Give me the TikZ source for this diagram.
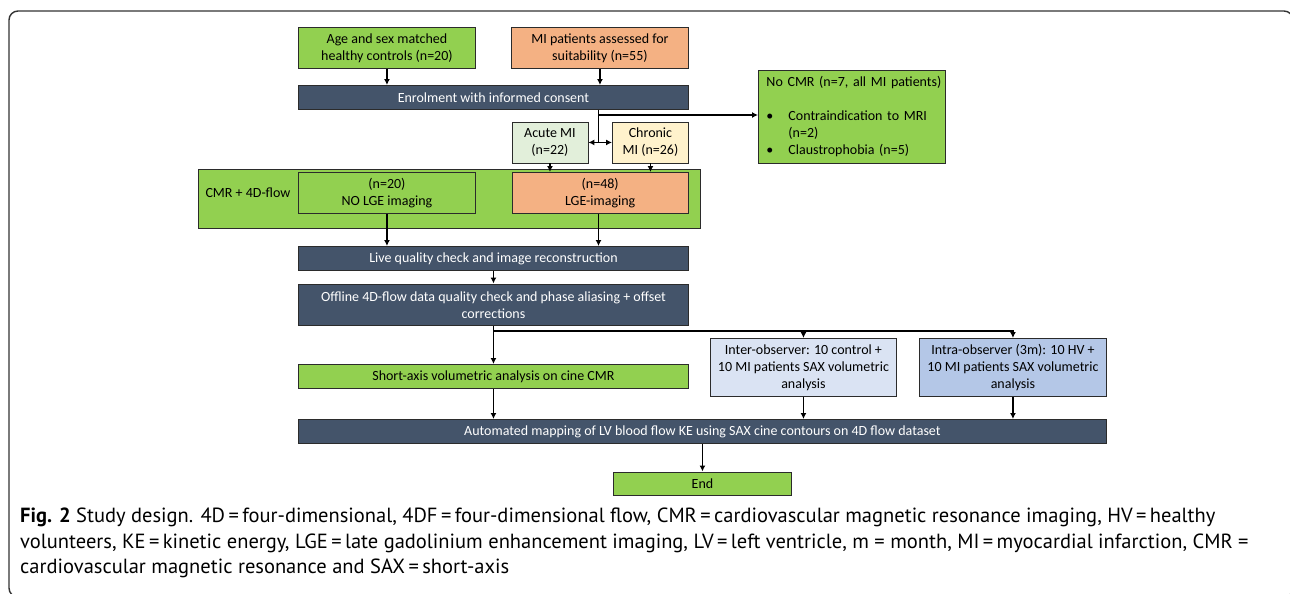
\documentclass[tikz,border=0pt]{standalone}
\usepackage{fontspec}
\setmainfont{Carlito}
\newfontfamily\capfont{PT Sans}
\usepackage{tikz}
\usetikzlibrary{positioning,arrows.meta}

\definecolor{mgreen}{HTML}{92D050}
\definecolor{morange}{HTML}{F4B183}
\definecolor{mnavy}{HTML}{44546A}
\definecolor{macute}{HTML}{E2EFDA}
\definecolor{mchronic}{HTML}{FFF2CC}
\definecolor{minter}{HTML}{DAE3F3}
\definecolor{mintra}{HTML}{B4C7E7}
\definecolor{boxline}{HTML}{2B2B2B}

\tikzset{
    box/.style={draw=boxline, line width=0.9pt, align=center, inner sep=0pt,
                anchor=north west, font=\fontsize{14}{17}\selectfont},
    greenbox/.style={box, fill=mgreen},
    orangebox/.style={box, fill=morange},
    darkbox/.style={box, fill=mnavy, text=white},
    link/.style={line width=1.7pt, black}
}

\begin{document}
\begin{tikzpicture}[x=1pt, y=-1pt, >={Latex[length=6pt,width=6pt]}]
                \useasboundingbox (0,0) rectangle (1290,594);
                \draw[line width=1.4pt, black!80, rounded corners=9pt] (9,11) rectangle (1293,597);

                % top row
                \node[greenbox, minimum width=177pt, minimum height=41pt]  (healthy)  at (298,27)  {Age and sex matched\\healthy controls (n=20)};
                \node[orangebox, minimum width=177pt, minimum height=41pt] (assessed) at (511,27)  {MI patients assessed for\\suitability (n=55)};
                \node[darkbox, minimum width=390pt, minimum height=24pt]   (enrol)    at (298,85)  {Enrolment with informed consent};

                \node[greenbox, minimum height=93pt, text width=171pt, inner xsep=8pt, align=left] (nocmr) at (758,70)
                    {\mbox{No CMR (n=7, all MI patients)}\\[17pt]
                     \makebox[22pt][l]{\textbullet}Contraindication to MRI\\
                     \hspace*{22pt}(n=2)\\
                     \makebox[22pt][l]{\textbullet}Claustrophobia (n=5)};

                \node[box, fill=macute, minimum width=76pt, minimum height=41pt]   (acute)   at (511.5,121.5) {Acute MI\\(n=22)};
                \node[box, fill=mchronic, minimum width=76pt, minimum height=41pt] (chronic) at (612,121.5)   {Chronic\\MI (n=26)};

                % scan group
                \node[greenbox, minimum width=502pt, minimum height=59pt] (scan) at (198,168.5) {};
                \node[font=\fontsize{14}{17}\selectfont] (scanlabel) at (248,193) {CMR + 4D-flow};
                \node[greenbox, minimum width=177pt, minimum height=41pt]    (nolge) at (298,172)   {(n=20)\\NO LGE imaging};
                \node[orangebox, minimum width=176.5pt, minimum height=41pt] (lge)   at (511.5,172) {(n=48)\\LGE-imaging};

                % processing
                \node[darkbox, minimum width=390pt, minimum height=24pt]   (live)      at (298,246)   {Live quality check and image reconstruction};
                \node[darkbox, minimum width=390pt, minimum height=41.5pt] (offline)   at (298,283.5) {Offline 4D-flow data quality check and phase aliasing + offset\\corrections};
                \node[greenbox, minimum width=390pt, minimum height=24pt]  (shortaxis) at (298,364)   {Short-axis volumetric analysis on cine CMR};
                \node[box, fill=minter, minimum width=186pt, minimum height=58pt] (inter) at (710,338) {Inter-observer: 10 control +\\10 MI patients SAX volumetric\\analysis};
                \node[box, fill=mintra, minimum width=187pt, minimum height=58pt] (intra) at (919,338) {Intra-observer (3m): 10 HV +\\10 MI patients SAX volumetric\\analysis};
                \node[darkbox, minimum width=808pt, minimum height=24pt]   (mapping)   at (298,419)   {Automated mapping of LV blood flow KE using SAX cine contours on 4D flow dataset};
                \node[greenbox, minimum width=178pt, minimum height=23.5pt] (theend)   at (613,471.5) {End};

                \coordinate (branch) at (598.5,115);
                \coordinate (split)  at (598.5,142);
                \coordinate (fork)   at (493,331);

                \draw[link, ->] (healthy.south)  -- (healthy.south |- enrol.north);
                \draw[link, ->] (assessed.south) -- (assessed.south |- enrol.north);
                \draw[link] (enrol.south -| branch) -- (split);
                \draw[link, ->] (branch) -- (branch -| nocmr.west);
                \draw[link, <->] (acute.east) -- (chronic.west);
                \draw[link, ->] (acute.south)   -- (acute.south |- lge.north);
                \draw[link, ->] (chronic.south) -- (chronic.south |- lge.north);
                \draw[link, ->] (nolge.south) -- (nolge.south |- live.north);
                \draw[link, ->] (lge.south -| branch) -- (live.north -| branch);
                \draw[link, ->] (live.south) -- (offline.north);
                \draw[link, ->] (offline.south) -- (shortaxis.north);
                \draw[link, ->] (fork) -- (fork -| intra.north) -- (intra.north);
                \draw[link, ->] (fork -| inter.north) -- (inter.north);
                \draw[link, ->] (shortaxis.south) -- (shortaxis.south |- mapping.north);
                \draw[link, ->] (inter.south) -- (inter.south |- mapping.north);
                \draw[link, ->] (intra.south) -- (intra.south |- mapping.north);
                \draw[link, ->] (theend.north |- mapping.south) -- (theend.north);

                % caption
                \node[anchor=north west, align=left, inner sep=0pt, font=\capfont\fontsize{20.5}{25.5}\selectfont] (caption) at (20,508)
                    {\textbf{Fig. 2} Study design. 4D\,=\,four-dimensional, 4DF\,=\,four-dimensional flow, CMR\,=\,cardiovascular magnetic resonance imaging, HV\,=\,healthy\\
                     volunteers, KE\,=\,kinetic energy, LGE\,=\,late gadolinium enhancement imaging, LV\,=\,left ventricle, m = month, MI\,=\,myocardial infarction, CMR =\\
                     cardiovascular magnetic resonance and SAX\,=\,short-axis};
            \end{tikzpicture}
\end{document}
